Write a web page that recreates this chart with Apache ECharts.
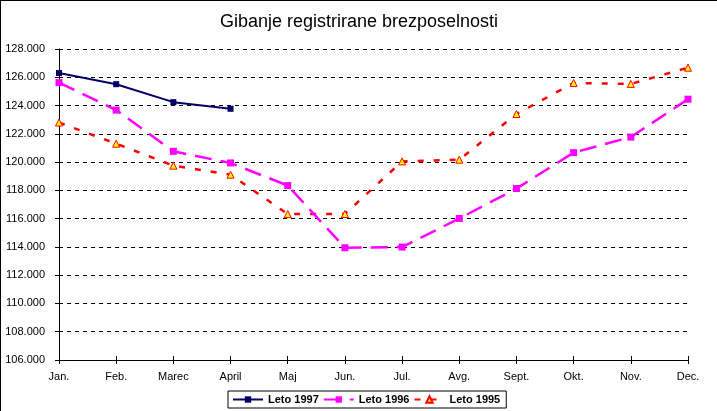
<!DOCTYPE html>
<html><head><meta charset="utf-8">
<script src="https://cdn.jsdelivr.net/npm/echarts@6/dist/echarts.min.js"></script>
<style>
html,body{margin:0;padding:0;background:#fff;}
#c{width:717px;height:411px;box-sizing:border-box;border-top:1px solid #000;border-left:1px solid #000;}
</style></head>
<body><div id="c"></div>
<script>
const months = ['Jan.','Feb.','Marec','April','Maj','Jun.','Jul.','Avg.','Sept.','Okt.','Nov.','Dec.'];
const leto1997 = [126300, 125510, 124240, 123770, null, null, null, null, null, null, null, null];
const leto1996 = [125620, 123680, 120760, 119940, 118340, 113940, 113990, 116010, 118130, 120670, 121770, 124450];
const leto1995 = [122800, 121300, 119750, 119110, 116320, 116330, 120050, 120170, 123400, 125600, 125530, 126680];
const yMin = 106000, yMax = 128000, yStep = 2000;

const chart = echarts.init(document.getElementById('c'));
const font = 'Liberation Sans, Arial, sans-serif';
const fmt = v => (v/1000).toFixed(3);
const axisLineStyle = {color:'#000', width:1};
chart.setOption({
  animation:false,
  title:{text:'Gibanje registrirane brezposelnosti', left:'center', top:7,
    textStyle:{fontFamily:font, fontSize:18, fontWeight:'normal', color:'#000'}},
  grid:{left:58, right:29, top:48, bottom:51},
  legend:{bottom:3, left:227, itemGap:4, itemWidth:30, itemHeight:8,
    borderColor:'#000', borderWidth:1, padding:[3,6,3,4], borderRadius:0,
    textStyle:{fontFamily:font, fontSize:11, fontWeight:'bold', color:'#000'},
    data:['Leto 1997','Leto 1996','Leto 1995']},
  xAxis:[
    {type:'category', data:months, boundaryGap:false,
     axisLine:{lineStyle:axisLineStyle}, axisTick:{length:4, lineStyle:axisLineStyle},
     axisLabel:{fontFamily:font, fontSize:11, color:'#000', margin:11}},
    {type:'category', data:months, boundaryGap:false, position:'bottom',
     axisLine:{show:false}, axisTick:{inside:true, length:4, lineStyle:axisLineStyle},
     axisLabel:{show:false}}
  ],
  yAxis:[
    {type:'value', min:yMin, max:yMax, interval:yStep,
     axisLine:{show:true, lineStyle:axisLineStyle}, axisTick:{show:true, length:4, lineStyle:axisLineStyle},
     splitLine:{lineStyle:{color:'#000', type:[4,4], width:1}},
     axisLabel:{formatter:fmt, fontFamily:font, fontSize:11, color:'#000', margin:14}},
    {type:'value', min:yMin, max:yMax, interval:yStep, position:'left',
     axisLine:{show:false}, axisTick:{show:true, inside:true, length:4, lineStyle:axisLineStyle},
     splitLine:{show:false}, axisLabel:{show:false}}
  ],
  series:[
    {name:'Leto 1997', type:'line', data:leto1997, symbol:'rect', symbolSize:6,
     lineStyle:{color:'#000066', width:2}, itemStyle:{color:'#000066'}, z:5},
    {name:'Leto 1996', type:'line', data:leto1996, symbol:'rect', symbolSize:7,
     lineStyle:{color:'#ff00ff', width:2.5, type:[17,9]}, itemStyle:{color:'#ff00ff'}, z:4},
    {name:'Leto 1995', type:'line', data:leto1995, symbol:'triangle', symbolSize:7,
     lineStyle:{color:'#ff0000', width:2.5, type:[6,10]},
     itemStyle:{color:'#ffff00', borderColor:'#ff0000', borderWidth:1}, z:3}
  ]
});
</script></body></html>
